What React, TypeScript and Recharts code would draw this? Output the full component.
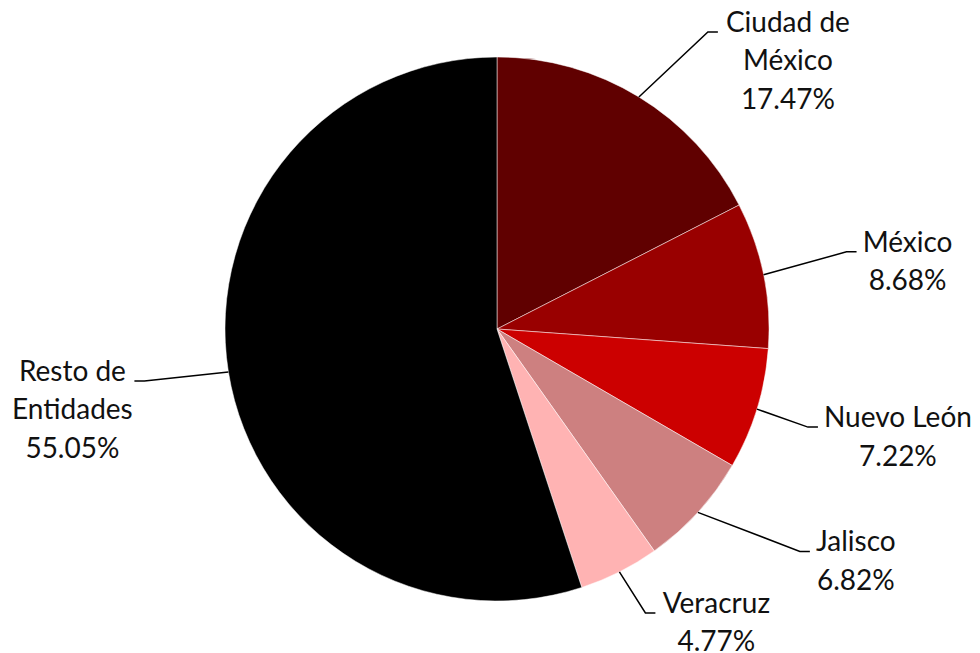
import React from "react";
import { PieChart, Pie, Cell } from "recharts";

// share of total by state, percent
const STATES = [
  "Ciudad de México",
  "México",
  "Nuevo León",
  "Jalisco",
  "Veracruz",
  "Resto de Entidades",
];
const SHARES = [17.47, 8.68, 7.22, 6.82, 4.77, 55.05];
const COLORS = ["#600000", "#990000", "#cc0000", "#cd8080", "#ffb3b3", "#000000"];

// where a name wraps onto two lines
const WRAP: Record<string, string[]> = {
  "Ciudad de México": ["Ciudad de", "México"],
  "Resto de Entidades": ["Resto de", "Entidades"],
};

// leader elbow offset from slice edge, text centre offset from tail end
const LABEL_LAYOUT = [
  { dx: 69, dy: -65, tx: 70 },
  { dx: 83, dy: -23, tx: 51 },
  { dx: 51, dy: 18, tx: 80 },
  { dx: 102, dy: 39, tx: 46 },
  { dx: 26, dy: 41, tx: 61 },
  { dx: -84, dy: 9, tx: -62 },
];

const RAD = Math.PI / 180;
const TAIL = 10;
const LINE_H = 38.5;

const data = STATES.map((name, i) => ({ name, value: SHARES[i] }));

const renderLabel = (props: any) => {
  const { cx, cy, midAngle, outerRadius, index, name, value } = props;
  const sx = cx + outerRadius * Math.cos(-midAngle * RAD);
  const sy = cy + outerRadius * Math.sin(-midAngle * RAD);
  const lay = LABEL_LAYOUT[index];
  const ex = sx + lay.dx;
  const ey = sy + lay.dy;
  const side = lay.dx >= 0 ? 1 : -1;
  const tx = ex + side * TAIL;
  const lines = [...(WRAP[name] ?? [name]), `${Number(value).toFixed(2)}%`];
  return (
    <g key={`lbl-${index}`}>
      <polyline
        points={`${sx},${sy} ${ex},${ey} ${tx},${ey}`}
        fill='none'
        stroke='#000'
        strokeWidth={1.5}
      />
      <text
        x={tx + lay.tx}
        y={ey}
        textAnchor='middle'
        fill='#111'
        fontSize={28}
        fontFamily='Lato, sans-serif'
      >
        {lines.map((l, i) => (
          <tspan key={i} x={tx + lay.tx} dy={i === 0 ? 0 : LINE_H}>
            {l}
          </tspan>
        ))}
      </text>
    </g>
  );
};

export default function App() {
  return (
    <div style={{ position: "absolute", left: 0, top: 0, width: 980, height: 653, background: "#fff" }}>
      <PieChart width={980} height={653} margin={{ top: 0, right: 0, bottom: 0, left: 0 }}>
        <Pie
          data={data}
          dataKey='value'
          nameKey='name'
          cx={497}
          cy={329}
          outerRadius={272}
          startAngle={90}
          endAngle={-270}
          stroke='#ffffff'
          strokeWidth={0.5}
          label={renderLabel}
          labelLine={false}
          isAnimationActive={false}
        >
          {data.map((d, i) => (
            <Cell key={d.name} fill={COLORS[i]} />
          ))}
        </Pie>
      </PieChart>
    </div>
  );
}
